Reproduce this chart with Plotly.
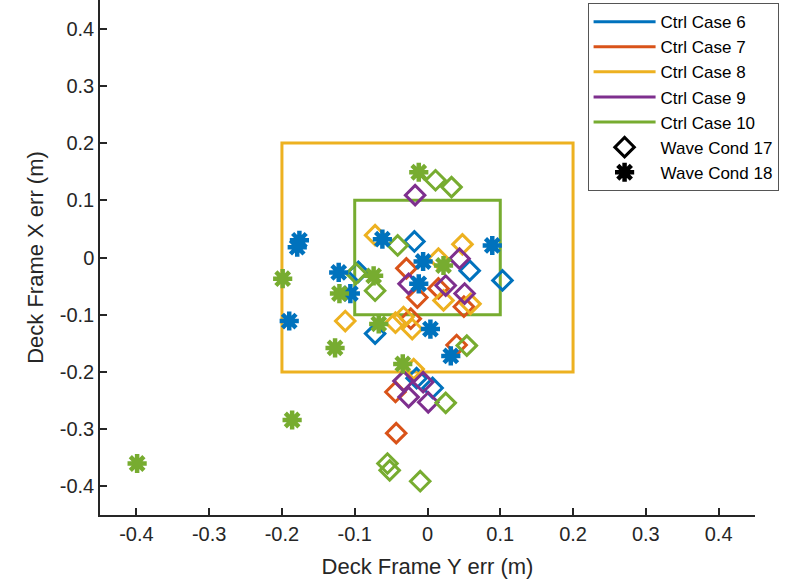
import plotly.graph_objects as go

# Deck-frame position errors (m): horizontal = Y err, vertical = X err
case_names = ["Ctrl Case 6", "Ctrl Case 7", "Ctrl Case 8", "Ctrl Case 9", "Ctrl Case 10"]
case_colors = ["#0072BD", "#D95319", "#EDB120", "#7E2F8E", "#77AC30"]

# Wave condition 17
c6_w17_yerr = [-0.018, -0.095, -0.072, 0.058, 0.103, 0.007, -0.015]
c6_w17_xerr = [0.028, -0.025, -0.133, -0.023, -0.040, -0.228, -0.211]
c7_w17_yerr = [-0.029, -0.014, 0.015, 0.050, -0.023, 0.040, -0.044, -0.043]
c7_w17_xerr = [-0.019, -0.070, -0.054, -0.086, -0.107, -0.153, -0.235, -0.307]
c8_w17_yerr = [-0.072, 0.048, 0.015, 0.022, 0.059, -0.113, -0.044, -0.033, -0.021, -0.019]
c8_w17_xerr = [0.039, 0.023, -0.002, -0.075, -0.081, -0.111, -0.114, -0.104, -0.125, -0.195]
c9_w17_yerr = [-0.017, 0.044, -0.026, 0.025, 0.051, -0.033, -0.006, -0.026, 0.001]
c9_w17_xerr = [0.109, -0.002, -0.046, -0.049, -0.063, -0.216, -0.218, -0.244, -0.253]
c10_w17_yerr = [0.011, 0.033, -0.041, -0.098, -0.072, 0.054, 0.025, -0.055, -0.052, -0.010]
c10_w17_xerr = [0.135, 0.123, 0.021, -0.028, -0.058, -0.154, -0.254, -0.360, -0.372, -0.391]

# Wave condition 18
c6_w18_yerr = [-0.176, -0.179, -0.122, -0.106, -0.062, -0.006, -0.012, 0.089, -0.190, 0.004, 0.032]
c6_w18_xerr = [0.030, 0.018, -0.026, -0.063, 0.032, -0.007, -0.046, 0.021, -0.111, -0.125, -0.172]
c10_w18_yerr = [-0.012, 0.022, -0.074, -0.121, -0.067, -0.127, -0.034, -0.199, -0.186, -0.399]
c10_w18_xerr = [0.149, -0.014, -0.032, -0.063, -0.116, -0.158, -0.186, -0.037, -0.284, -0.360]

# Tolerance boxes (half-widths, m)
box_halfwidths = [0.2, 0.1]
box_colors = ["#EDB120", "#77AC30"]

tick_vals = [-0.4, -0.3, -0.2, -0.1, 0, 0.1, 0.2, 0.3, 0.4]
tick_text = ["-0.4", "-0.3", "-0.2", "-0.1", "0", "0.1", "0.2", "0.3", "0.4"]

FONT = "Liberation Sans, Arial, sans-serif"
TXT = "#262626"

DIAMOND = dict(symbol="diamond-open", size=15)
STAR = dict(symbol="asterisk-open", size=16)

fig = go.Figure()

w17 = [(c6_w17_yerr, c6_w17_xerr), (c7_w17_yerr, c7_w17_xerr), (c8_w17_yerr, c8_w17_xerr),
       (c9_w17_yerr, c9_w17_xerr), (c10_w17_yerr, c10_w17_xerr)]
w18 = [(c6_w18_yerr, c6_w18_xerr), None, None, None, (c10_w18_yerr, c10_w18_xerr)]

for (xs, ys), col in zip(w17, case_colors):
    fig.add_trace(go.Scatter(
        x=xs, y=ys, mode="markers", showlegend=False, hoverinfo="skip",
        marker=dict(**DIAMOND, color=col, line=dict(color=col, width=3)),
    ))

for pts, col in zip(w18, case_colors):
    if pts is None:
        continue
    xs, ys = pts
    fig.add_trace(go.Scatter(
        x=xs, y=ys, mode="markers", showlegend=False, hoverinfo="skip",
        marker=dict(**STAR, color=col, line=dict(color=col, width=4.5)),
    ))

# Legend entries
for name, col in zip(case_names, case_colors):
    fig.add_trace(go.Scatter(x=[None], y=[None], mode="lines", name=name,
                             line=dict(color=col, width=3)))
fig.add_trace(go.Scatter(x=[None], y=[None], mode="markers", name="Wave Cond 17",
                         marker=dict(**DIAMOND, color="black",
                                     line=dict(color="black", width=3))))
fig.add_trace(go.Scatter(x=[None], y=[None], mode="markers", name="Wave Cond 18",
                         marker=dict(**STAR, color="black",
                                     line=dict(color="black", width=4.5))))

for h, col in zip(box_halfwidths, box_colors):
    fig.add_shape(type="rect", xref="x", yref="y", x0=-h, x1=h, y0=-h, y1=h,
                  line=dict(color=col, width=3), layer="below")

axis_common = dict(
    range=[-0.45, 0.45], tickvals=tick_vals, ticktext=tick_text,
    showgrid=False, zeroline=False, showline=True, linecolor=TXT, linewidth=1.5,
    ticks="inside", ticklen=7, tickwidth=1.5, tickcolor=TXT,
    tickfont=dict(family=FONT, size=20, color=TXT),
)

fig.update_layout(
    width=794, height=580,
    margin=dict(l=100, r=39, t=0, b=65),
    paper_bgcolor="white", plot_bgcolor="white",
    xaxis=dict(title=dict(text="Deck Frame Y err (m)", font=dict(family=FONT, size=22, color=TXT), standoff=15),
               **axis_common),
    yaxis=dict(title=dict(text="Deck Frame X err (m)", font=dict(family=FONT, size=22, color=TXT), standoff=10),
               **axis_common),
    legend=dict(x=1.036, xanchor="right", y=0.994, yanchor="top",
                bgcolor="white", bordercolor="#555555", borderwidth=1,
                font=dict(family=FONT, size=17, color="black"),
                itemwidth=62, tracegroupgap=0),
)

fig.write_html("out.html")
